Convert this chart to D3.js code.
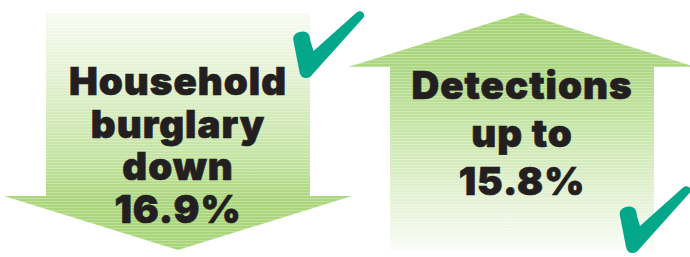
<!DOCTYPE html>
<html>
<head>
<meta charset="utf-8">
<script src="https://cdn.jsdelivr.net/npm/d3@7"></script>
<style>
  html, body { margin: 0; padding: 0; background: #ffffff; }
  svg { display: block; }
</style>
</head>
<body>
<div id="chart"></div>
<script>
// ---- data ----
const categories = ["Household burglary", "Detections"];
const directions = ["down", "up"];
const changeWords = ["down", "up to"];
const values = [16.9, 15.8];
const textLines = [
  ["Household", "burglary", "down", "16.9%"],
  ["Detections", "up to", "15.8%"]
];

const W = 690, H = 257;
const svg = d3.select("#chart").append("svg")
  .attr("width", W).attr("height", H);

const x = d3.scaleBand().domain(categories).range([6, 694]).padding(0);
const y = d3.scaleLinear().domain([0, 1]).range([250, 13]);

const shaftHalf = 132, headHalf = 174, headH = 54;
const defs = svg.append("defs");

// gradients
const gDown = defs.append("linearGradient").attr("id", "gDown")
  .attr("gradientUnits", "userSpaceOnUse")
  .attr("x1", 0).attr("x2", 0).attr("y1", y(1)).attr("y2", y(0));
[[0, "#f8fbf2"], [0.3, "#e0f0cd"], [0.65, "#bfe19b"], [0.78, "#acd67d"], [1, "#a8d578"]]
  .forEach(([o, c]) => gDown.append("stop").attr("offset", o).attr("stop-color", c));

const gUp = defs.append("linearGradient").attr("id", "gUp")
  .attr("gradientUnits", "userSpaceOnUse")
  .attr("x1", 0).attr("x2", 0).attr("y1", y(1)).attr("y2", y(0));
[[0, "#a5d373"], [0.22, "#acd682"], [0.5, "#c8e6aa"], [0.8, "#e5f2d7"], [1, "#fbfdf8"]]
  .forEach(([o, c]) => gUp.append("stop").attr("offset", o).attr("stop-color", c));

// stripes
const pat = defs.append("pattern").attr("id", "stripes")
  .attr("patternUnits", "userSpaceOnUse").attr("width", 8).attr("height", 3);
pat.append("rect").attr("width", 8).attr("height", 1).attr("fill", "#ffffff").attr("opacity", 0.28);

function arrowPath(cat, dir) {
  const cx = x(cat) + x.bandwidth() / 2;
  const top = y(1), bot = y(0);
  const p = d3.path();
  if (dir === "down") {
    const hb = bot - headH;
    p.moveTo(cx - shaftHalf, top);
    p.lineTo(cx + shaftHalf, top);
    p.lineTo(cx + shaftHalf, hb);
    p.lineTo(cx + headHalf, hb);
    p.lineTo(cx, bot);
    p.lineTo(cx - headHalf, hb);
    p.lineTo(cx - shaftHalf, hb);
  } else {
    const hb = top + headH;
    p.moveTo(cx, top);
    p.lineTo(cx + headHalf, hb);
    p.lineTo(cx + shaftHalf, hb);
    p.lineTo(cx + shaftHalf, bot);
    p.lineTo(cx - shaftHalf, bot);
    p.lineTo(cx - shaftHalf, hb);
    p.lineTo(cx - headHalf, hb);
  }
  p.closePath();
  return p.toString();
}

const data = categories.map((c, i) => ({ cat: c, dir: directions[i], lines: textLines[i], value: values[i] }));

const arrows = svg.selectAll("g.arrow").data(data).join("g").attr("class", "arrow");
arrows.append("path").attr("d", d => arrowPath(d.cat, d.dir))
  .attr("fill", d => d.dir === "down" ? "url(#gDown)" : "url(#gUp)");
arrows.append("path").attr("d", d => arrowPath(d.cat, d.dir))
  .attr("fill", "url(#stripes)");

// text
const lineCfg = { down: { first: 95, step: 42.7 }, up: { first: 99, step: 48 } };
arrows.append("text")
  .attr("text-anchor", "middle")
  .attr("font-family", "Inter, 'Liberation Sans', Arial, sans-serif")
  .attr("font-weight", 900)
  .attr("font-size", 38.5)
  .attr("letter-spacing", 1)
  .attr("fill", "#231f20")
  .attr("stroke", "#231f20")
  .attr("stroke-width", 0.7)
  .each(function(d) {
    const cx = x(d.cat) + x.bandwidth() / 2;
    const cfg = lineCfg[d.dir];
    d3.select(this).selectAll("tspan").data(d.lines).join("tspan")
      .attr("x", cx)
      .attr("y", (l, j) => cfg.first + j * cfg.step)
      .text(l => l);
  });

// check marks
const checkD = "M9.3 35 C8.5 30 13 26.5 19 26.5 C24 26.5 26 30 26.5 36 L29.5 46 L72 8 C76 4.5 81 7 80 12 L27 71 C23 74.5 17 74 15.5 67 Z";
const checkPos = [
  { dx: x.bandwidth() / 2 + 106, dy: y(1) - 8 },
  { dx: x.bandwidth() / 2 + 88.5, dy: y(1) + 167 }
];
svg.selectAll("path.check").data(data).join("path").attr("class", "check")
  .attr("d", checkD)
  .attr("fill", "#03a88b")
  .attr("transform", (d, i) => `translate(${x(d.cat) + checkPos[i].dx},${checkPos[i].dy})`);
</script>
</body>
</html>
